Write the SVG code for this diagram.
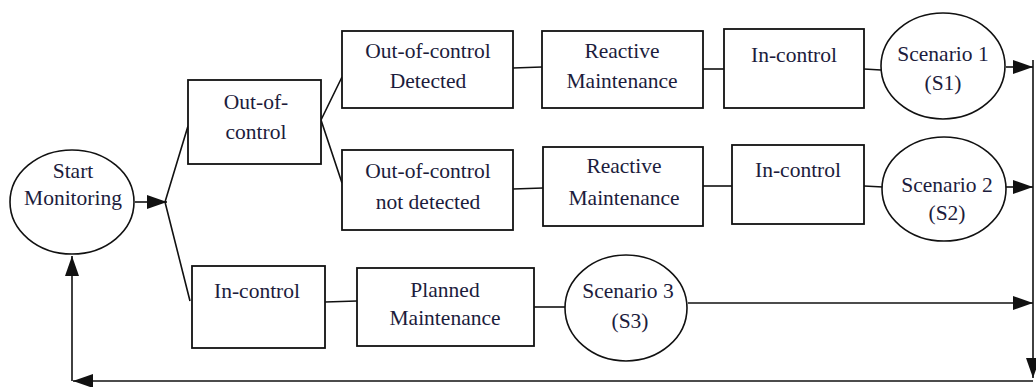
<svg xmlns="http://www.w3.org/2000/svg" width="1036" height="387" viewBox="0 0 1036 387">
  <style>
    .box { fill: #fff; stroke: #111; stroke-width: 1.8; }
    .oval { fill: #fff; stroke: #111; stroke-width: 1.6; }
    .ln { fill: none; stroke: #111; stroke-width: 1.6; }
    text { font-family: "Liberation Serif", serif; font-size: 21.5px; fill: #1c1c3c; text-anchor: middle; }
  </style>
  <defs>
    <marker id="arrow" viewBox="0 0 20 14" refX="20" refY="7" markerWidth="20" markerHeight="14" markerUnits="userSpaceOnUse" orient="auto">
      <path d="M0,0 L20,7 L0,14 Z" fill="#111"/>
    </marker>
  </defs>
  <rect width="1036" height="387" fill="#fff"/>

  <!-- connectors -->
  <g id="connectors">
    <line class="ln" x1="135" y1="202" x2="167" y2="202" marker-end="url(#arrow)"/>
    <polyline class="ln" points="188,126 165,202 190,301"/>
    <polyline class="ln" points="342,77 321,120 342,183"/>
    <line class="ln" x1="513" y1="68" x2="542" y2="67"/>
    <line class="ln" x1="703" y1="69" x2="724" y2="69"/>
    <line class="ln" x1="864" y1="69" x2="881" y2="70"/>
    <line class="ln" x1="513" y1="189" x2="543" y2="188"/>
    <line class="ln" x1="703" y1="186" x2="732" y2="186"/>
    <line class="ln" x1="864" y1="186" x2="883" y2="187"/>
    <line class="ln" x1="325" y1="302" x2="357" y2="301"/>
    <line class="ln" x1="534" y1="307" x2="565" y2="307"/>
    <line class="ln" x1="1006" y1="67" x2="1033" y2="67" marker-end="url(#arrow)"/>
    <line class="ln" x1="1006" y1="187" x2="1033" y2="187" marker-end="url(#arrow)"/>
    <line class="ln" x1="688" y1="303" x2="1033" y2="303" marker-end="url(#arrow)"/>
    <!-- return path back to the start -->
    <line class="ln" x1="1033" y1="60" x2="1033" y2="378" marker-end="url(#arrow)"/>
    <line class="ln" x1="1033" y1="381" x2="73" y2="381" marker-end="url(#arrow)"/>
    <line class="ln" x1="72" y1="381" x2="72" y2="256" marker-end="url(#arrow)"/>
  </g>

  <g id="start">
    <ellipse class="oval" cx="72" cy="202" rx="62" ry="52"/>
    <text x="73" y="178">Start</text>
    <text x="73" y="205">Monitoring</text>
  </g>

  <g id="out-of-control">
    <rect class="box" x="188" y="80" width="133" height="84"/>
    <text x="256" y="109">Out-of-</text>
    <text x="256" y="139">control</text>
  </g>

  <g id="detected">
    <rect class="box" x="342" y="31" width="171" height="77"/>
    <text x="428" y="58">Out-of-control</text>
    <text x="428" y="88">Detected</text>
  </g>

  <g id="reactive-1">
    <rect class="box" x="542" y="31" width="161" height="77"/>
    <text x="622" y="58">Reactive</text>
    <text x="622" y="88">Maintenance</text>
  </g>

  <g id="in-control-1">
    <rect class="box" x="724" y="29" width="140" height="79"/>
    <text x="794" y="62">In-control</text>
  </g>

  <g id="scenario-1">
    <ellipse class="oval" cx="943" cy="66" rx="62" ry="53"/>
    <text x="943" y="61">Scenario 1</text>
    <text x="943" y="90">(S1)</text>
  </g>

  <g id="not-detected">
    <rect class="box" x="342" y="150" width="171" height="80"/>
    <text x="428" y="178">Out-of-control</text>
    <text x="428" y="209">not detected</text>
  </g>

  <g id="reactive-2">
    <rect class="box" x="543" y="147" width="160" height="79"/>
    <text x="624" y="173">Reactive</text>
    <text x="624" y="205">Maintenance</text>
  </g>

  <g id="in-control-2">
    <rect class="box" x="732" y="145" width="132" height="79"/>
    <text x="798" y="177">In-control</text>
  </g>

  <g id="scenario-2">
    <ellipse class="oval" cx="944" cy="189" rx="62" ry="52"/>
    <text x="947" y="192">Scenario 2</text>
    <text x="947" y="220">(S2)</text>
  </g>

  <g id="in-control-3">
    <rect class="box" x="192" y="266" width="133" height="82"/>
    <text x="257" y="298">In-control</text>
  </g>

  <g id="planned">
    <rect class="box" x="357" y="268" width="177" height="78"/>
    <text x="445" y="297">Planned</text>
    <text x="445" y="325">Maintenance</text>
  </g>

  <g id="scenario-3">
    <ellipse class="oval" cx="626" cy="308" rx="61" ry="53"/>
    <text x="628" y="298">Scenario 3</text>
    <text x="630" y="328">(S3)</text>
  </g>
</svg>
